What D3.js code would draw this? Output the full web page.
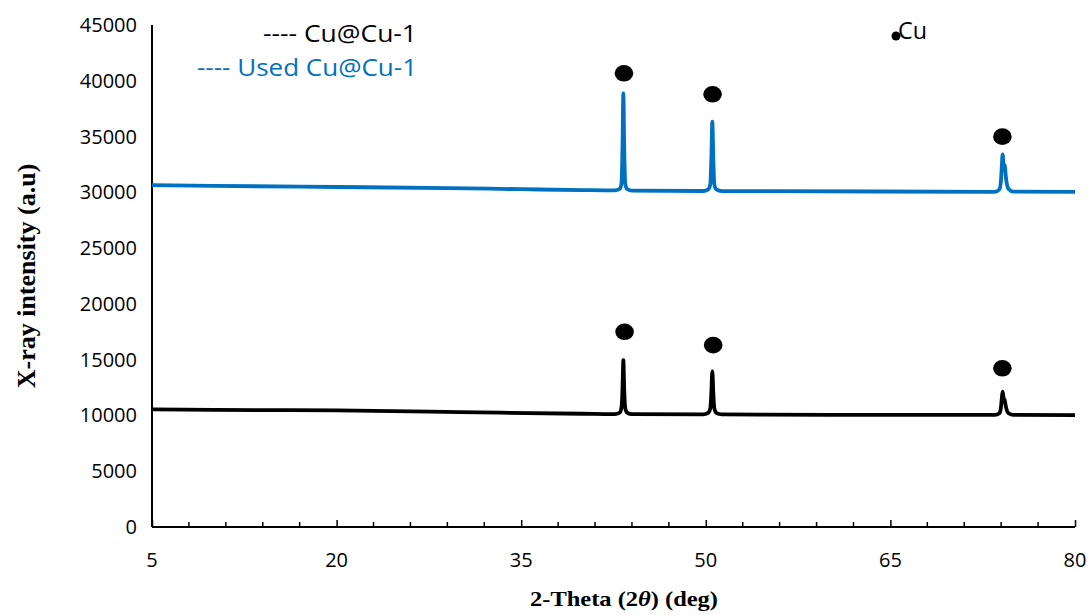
<!DOCTYPE html>
<html>
<head>
<meta charset="utf-8">
<script src="https://cdn.jsdelivr.net/npm/d3@7"></script>
<style>
  body { margin: 0; background: #fff; }
  svg { display: block; }
</style>
</head>
<body>
<div id="chart"></div>
<script>
// data: [2theta (deg), intensity]
const cuCu1 = [
  [5, 10550], [10, 10500], [20, 10450], [30, 10300], [40, 10150],
  [42.6, 10120], [43.0, 10250], [43.15, 10700], [43.23, 12300], [43.3, 14950],
  [43.37, 12300], [43.45, 10700], [43.6, 10250], [44.0, 10110],
  [49.8, 10100], [50.2, 10230], [50.37, 10650], [50.45, 12000], [50.53, 13950],
  [50.61, 12000], [50.69, 10650], [50.85, 10230], [51.3, 10090],
  [60, 10060], [73.5, 10050], [73.85, 10200], [73.98, 10700], [74.05, 11500],
  [74.12, 12130], [74.2, 11550], [74.28, 11400], [74.4, 10700], [74.6, 10200],
  [75.0, 10050], [80, 10030]
];
const usedCuCu1 = [
  [5, 30650], [10, 30580], [20, 30480], [29, 30380], [35, 30280], [40, 30200],
  [42.6, 30170], [43.0, 30300], [43.15, 30800], [43.23, 34000], [43.3, 38870],
  [43.37, 34000], [43.45, 30800], [43.6, 30300], [44.0, 30150],
  [49.8, 30120], [50.2, 30260], [50.37, 30750], [50.45, 33000], [50.53, 36330],
  [50.61, 33000], [50.69, 30750], [50.85, 30260], [51.3, 30100],
  [55, 30100], [73.5, 30050], [73.85, 30250], [73.98, 31000], [74.05, 32300],
  [74.12, 33410], [74.2, 32350], [74.28, 32450], [74.4, 31200], [74.6, 30300],
  [75.0, 30060], [80, 30050]
];
// Cu reflection markers (ellipses above peaks)
const markersCuCu1 = [[43.4, 17500], [50.6, 16300], [74.1, 14230]];
const markersUsed = [[43.35, 40670], [50.55, 38790], [74.1, 34990]];

const yTicks = [0, 5000, 10000, 15000, 20000, 25000, 30000, 35000, 40000, 45000];
const xTicks = [5, 20, 35, 50, 65, 80];
const xMinorTicks = d3.range(8, 80, 3);

const seriesNames = ["---- Cu@Cu-1", "---- Used Cu@Cu-1"];
const seriesColors = ["#000000", "#0070c0"];
const legendWidths = [154, 220];

const W = 1091, H = 615;
const svg = d3.select("#chart").append("svg")
  .attr("width", W).attr("height", H);

const x = d3.scaleLinear().domain([5, 80]).range([152, 1075]);
const y = d3.scaleLinear().domain([0, 45000]).range([527, 25]);

const tickFont = "'Open Sans', 'Liberation Sans', sans-serif";
const serif = "'Liberation Serif', 'Times New Roman', serif";

// y axis: line only, labels on the left
svg.append("line")
  .attr("x1", x(5)).attr("x2", x(5))
  .attr("y1", y(45000)).attr("y2", y(0))
  .attr("stroke", "#000").attr("stroke-width", 2);

svg.selectAll(".ylab")
  .data(yTicks)
  .enter()
  .append("text")
  .attr("class", "ylab")
  .attr("x", 137)
  .attr("y", d => y(d))
  .attr("dy", "0.35em")
  .attr("text-anchor", "end")
  .attr("font-family", tickFont)
  .attr("font-size", "20px")
  .attr("fill", "#000")
  .text(d => d);

// x axis, ticks point up into the plot
const xAxis = d3.axisTop(x).tickValues(xTicks).tickSize(7).tickFormat("");
const gx = svg.append("g")
  .attr("transform", `translate(0,${y(0)})`)
  .call(xAxis);
gx.select(".domain").attr("stroke-width", 2).attr("d", `M${x(5)},0H${x(80)}`);
gx.selectAll(".tick line").attr("stroke-width", 1.5);

svg.append("g")
  .attr("transform", `translate(0,${y(0)})`)
  .selectAll("line")
  .data(xMinorTicks.filter(d => !xTicks.includes(d)))
  .enter()
  .append("line")
  .attr("x1", d => x(d)).attr("x2", d => x(d))
  .attr("y1", 0).attr("y2", -5)
  .attr("stroke", "#000").attr("stroke-width", 1.5);

svg.selectAll(".xlab")
  .data(xTicks)
  .enter()
  .append("text")
  .attr("class", "xlab")
  .attr("x", d => x(d))
  .attr("y", 567)
  .attr("text-anchor", "middle")
  .attr("font-family", tickFont)
  .attr("font-size", "20px")
  .attr("fill", "#000")
  .text(d => d);

// series lines
const line = d3.line()
  .x(d => x(d[0]))
  .y(d => y(d[1]))
  .curve(d3.curveMonotoneX);

[cuCu1, usedCuCu1].forEach((s, i) => {
  svg.append("path")
    .datum(s)
    .attr("fill", "none")
    .attr("stroke", seriesColors[i])
    .attr("stroke-width", 3.8)
    .attr("stroke-linejoin", "round")
    .attr("d", line);
});

// peak markers
svg.selectAll(".mk")
  .data(markersCuCu1.concat(markersUsed))
  .enter()
  .append("ellipse")
  .attr("class", "mk")
  .attr("cx", d => x(d[0]))
  .attr("cy", d => y(d[1]))
  .attr("rx", 9.3)
  .attr("ry", 8.3)
  .attr("fill", "#000");

// legend text
seriesNames.forEach((n, i) => {
  svg.append("text")
    .attr("x", 417 - legendWidths[i])
    .attr("y", 42 + i * 34)
    .attr("textLength", legendWidths[i])
    .attr("lengthAdjust", "spacingAndGlyphs")
    .attr("font-family", tickFont)
    .attr("font-size", "24px")
    .attr("fill", seriesColors[i])
    .text(n);
});

// "● Cu" key
svg.append("circle")
  .attr("cx", 896).attr("cy", 36).attr("r", 4.5).attr("fill", "#000");
svg.append("text")
  .attr("x", 898).attr("y", 39)
  .attr("textLength", 29)
  .attr("lengthAdjust", "spacingAndGlyphs")
  .attr("font-family", tickFont)
  .attr("font-size", "24px")
  .attr("fill", "#000")
  .text("Cu");

// axis titles
const xTitle = svg.append("text")
  .attr("x", 530).attr("y", 606)
  .attr("textLength", 188)
  .attr("lengthAdjust", "spacingAndGlyphs")
  .attr("font-family", serif)
  .attr("font-size", "22px")
  .attr("font-weight", "bold");
xTitle.append("tspan").text("2-Theta (2");
xTitle.append("tspan").attr("font-style", "italic").text("θ");
xTitle.append("tspan").text(") (deg)");

svg.append("text")
  .attr("transform", "translate(35,276) rotate(-90)")
  .attr("text-anchor", "middle")
  .attr("font-family", serif)
  .attr("font-size", "26px")
  .attr("font-weight", "bold")
  .text("X-ray intensity (a.u)");
</script>
</body>
</html>
